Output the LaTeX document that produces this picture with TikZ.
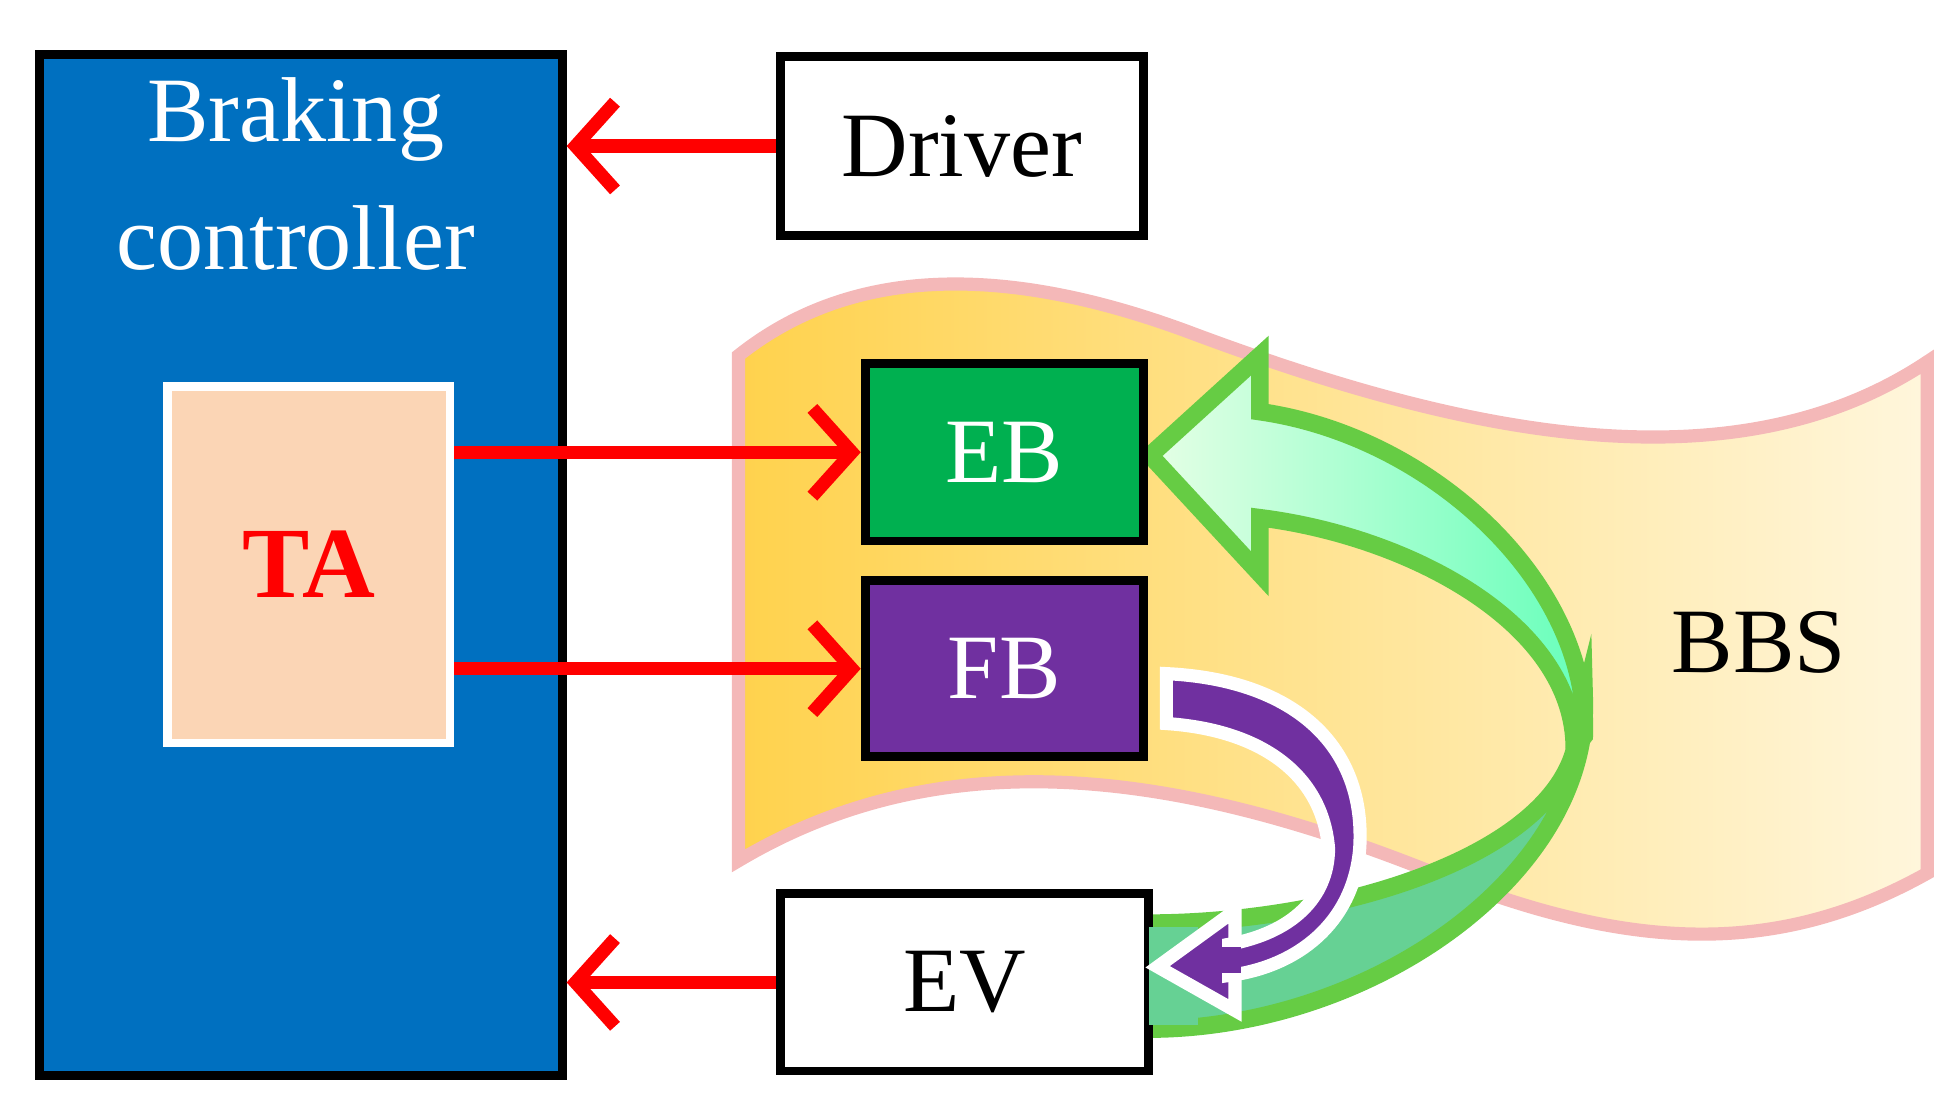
\documentclass[tikz,border=0pt]{standalone}
\usepackage{fontspec}
\setmainfont{Liberation Serif}
\usetikzlibrary{arrows.meta}
\definecolor{ctrlblue}{HTML}{0070C0}
\definecolor{peach}{HTML}{FBD5B5}
\definecolor{ebgreen}{HTML}{00B050}
\definecolor{fbpurple}{HTML}{7030A0}
\definecolor{gold}{HTML}{FFD24D}
\definecolor{cream}{HTML}{FFF6DC}
\definecolor{bandpink}{HTML}{F4B8B8}
\definecolor{arrgreen}{HTML}{66CC44}
\begin{document}
\begin{tikzpicture}[x=0.01cm,y=-0.01cm,
    box/.style={draw=black, line width=2pt, inner sep=0pt, font=\fontsize{21}{24}\selectfont},
    redarr/.style={draw=red, line width=3pt, -{Straight Barb[length=9pt,width=20pt,line width=3pt]}},
  ]
  \useasboundingbox (0,0) rectangle (1560,887);

  % BBS banner
  \shade[left color=gold, right color=cream, draw=bandpink, line width=3pt]
    (592,285) .. controls (680,215) and (800,210) .. (950,265)
    .. controls (1150,340) and (1380,400) .. (1545,290)
    -- (1545,700)
    .. controls (1420,770) and (1300,760) .. (1150,700)
    .. controls (950,620) and (760,590) .. (592,690) -- cycle;
  \node[font=\fontsize{21}{24}\selectfont] (bbs) at (1410,515) {BBS};

  % green curved arrow (back part)
  \fill[green!40!teal!60, draw=arrgreen, line width=4pt]
    (1270,560) .. controls (1275,700) and (1100,825) .. (920,825)
    -- (920,740) .. controls (1080,740) and (1265,680) .. (1265,580) -- cycle;
  % green curved arrow (front part)
  \shade[left color=green!10, right color=green!45!cyan!60, draw=arrgreen, line width=4pt]
    (1270,590) .. controls (1275,470) and (1150,350) .. (1010,330)
    -- (1010,285) -- (922,365) -- (1010,460) -- (1010,415)
    .. controls (1130,430) and (1262,500) .. (1262,600) -- cycle;

  % controller
  \node[box, fill=ctrlblue, anchor=north west,
        minimum width=4.19cm, minimum height=8.18cm] (ctrl) at (28,40) {};
  \node[text=white, align=center, font=\fontsize{21}{29}\selectfont, anchor=north]
    (ctrltxt) at (237,50) {Braking\\controller};
  \node[draw=white, line width=2pt, fill=peach, anchor=north west,
        minimum width=2.26cm, minimum height=2.86cm,
        text=red, font=\bfseries\fontsize{23}{26}\selectfont] (ta) at (131,306) {TA};

  \node[box, fill=white, anchor=north west, minimum width=2.91cm, minimum height=1.43cm]
    (driver) at (622,42) {Driver};
  \node[box, fill=white, anchor=north west, minimum width=2.95cm, minimum height=1.42cm]
    (ev) at (622,713) {EV};
  \node[box, fill=ebgreen, text=white, anchor=north west, minimum width=2.23cm, minimum height=1.42cm]
    (eb) at (690,288) {EB};
  \node[box, fill=fbpurple, text=white, anchor=north west, minimum width=2.23cm, minimum height=1.41cm]
    (fb) at (690,462) {FB};

  % green band over the EV box edge
  \fill[green!40!teal!60] (921,743) rectangle (960,822);

  % purple curved arrow
  \filldraw[fill=fbpurple, draw=white, line width=3pt]
    (990,730) -- (928,775) -- (990,810) -- cycle;
  \filldraw[fill=fbpurple, draw=white, line width=3pt]
    (935,540) .. controls (1040,545) and (1095,600) .. (1090,680)
    .. controls (1085,740) and (1040,775) .. (985,782)
    -- (985,757)
    .. controls (1035,748) and (1065,720) .. (1065,680)
    .. controls (1060,620) and (1010,585) .. (935,580) -- cycle;
  \fill[fbpurple] (970,759) rectangle (995,780);

  % red arrows
  \draw[redarr] (driver.west) -- (ctrl.east |- driver.west);
  \draw[redarr] (ta.east |- eb.west) -- (eb.west);
  \draw[redarr] (ta.east |- fb.west) -- (fb.west);
  \draw[redarr] (ev.west) -- (ctrl.east |- ev.west);
\end{tikzpicture}
\end{document}
